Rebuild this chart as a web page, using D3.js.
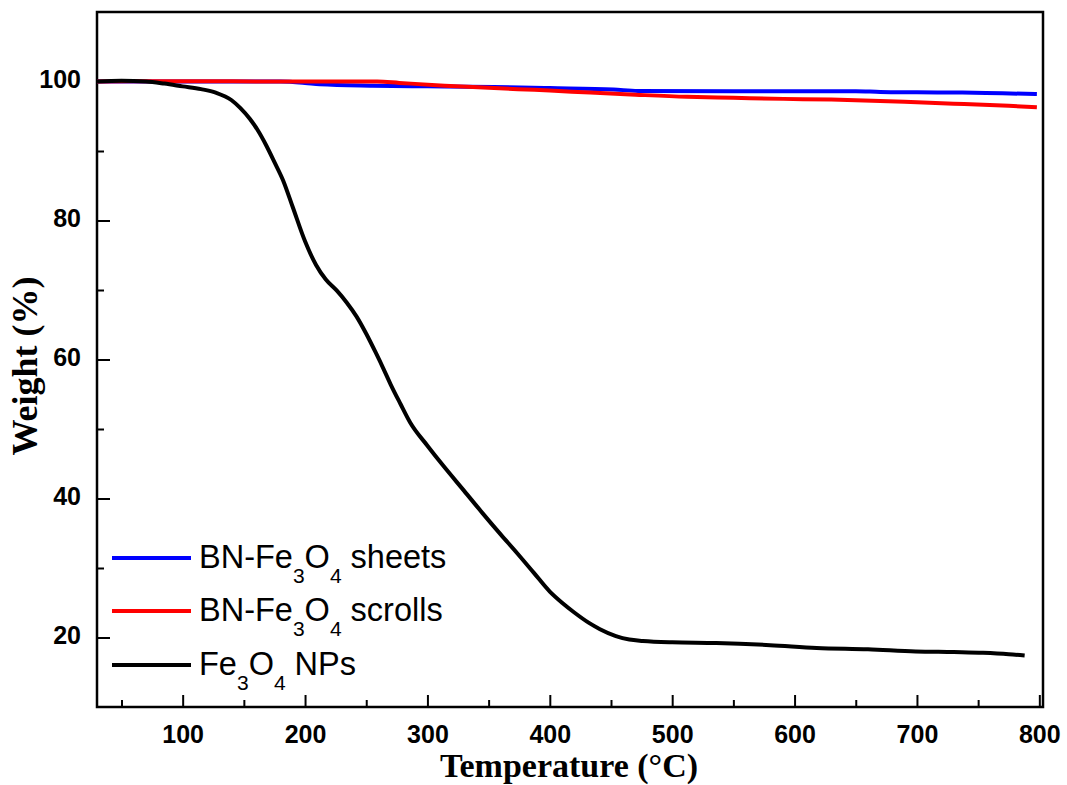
<!DOCTYPE html>
<html><head><meta charset="utf-8">
<script src="https://cdn.jsdelivr.net/npm/d3@7"></script>
<style>body{margin:0;background:#fff;} svg{display:block;}</style>
</head><body>
<script>
// ---- data ----
const xTicks = [100,200,300,400,500,600,700,800];
const xMinor = [50,150,250,350,450,550,650,750];
const yTicks = [20,40,60,80,100];
const yMinor = [30,50,70,90];
const seriesNames = ["BN-Fe3O4 sheets","BN-Fe3O4 scrolls","Fe3O4 NPs"];
const sheetsT = [30,100,180,200,212,255,300,354,400,452,472,550,650,670,700,737,770,798];
const sheetsW = [100,100,100,99.8,99.6,99.4,99.3,99.2,99.05,98.85,98.65,98.6,98.6,98.5,98.45,98.4,98.3,98.2];
const scrollsT = [30,100,182,259,277,314,350,374,400,433,470,512,550,591,630,670,700,730,749,775,798];
const scrollsW = [100,100.05,100,100,99.8,99.4,99.1,98.9,98.7,98.4,98.1,97.8,97.65,97.5,97.4,97.2,97.0,96.8,96.7,96.5,96.3];
const npsT = [30,50,70,85,100,115,127,140,147,155,162,168,175,182,190,200,209,217,226,234,242,250,258,264,270,278,286,300,313,330,345,360,373,387,400,410,420,432,441,454,465,476,500,536,580,618,660,699,730,754,775,788];
const npsW = [100,100.1,100,99.7,99.3,98.9,98.4,97.3,96.2,94.6,92.8,90.9,88.4,85.8,81.9,77,73.6,71.5,69.9,68.2,66.2,63.7,60.9,58.7,56.4,53.6,50.9,47.6,44.7,41.1,37.9,34.8,32.2,29.3,26.6,25,23.6,22.1,21.2,20.2,19.7,19.5,19.3,19.2,18.9,18.5,18.3,18,17.9,17.8,17.6,17.4];

const W = 1067, H = 785;
const L = 97, R = 1043, T = 12, B = 707;
const svg = d3.select("body").append("svg").attr("width", W).attr("height", H);
const x = d3.scaleLinear().domain([30, 803]).range([L, R]);
const y = d3.scaleLinear().domain([10, 110]).range([B, T]);

const tickFont = "'Liberation Sans', Arial, sans-serif";
const serif = "'Liberation Serif', 'Times New Roman', serif";

// frame
svg.append("rect").attr("x", L).attr("y", T).attr("width", R - L).attr("height", B - T)
  .attr("fill", "none").attr("stroke", "#000").attr("stroke-width", 2.5);

// x axis
const gx = svg.append("g").attr("transform", `translate(0,${B})`);
gx.call(d3.axisBottom(x).tickValues(xTicks).tickSize(-12).tickPadding(18).tickFormat(d3.format("d")));
gx.append("g").call(d3.axisBottom(x).tickValues(xMinor).tickSize(-7).tickFormat(""));
gx.selectAll(".domain").remove();
gx.selectAll("line").attr("stroke", "#000").attr("stroke-width", 2);
gx.selectAll("text").attr("font-family", tickFont).attr("font-weight", "bold").attr("font-size", 25).attr("fill", "#000");

// y axis
const gy = svg.append("g").attr("transform", `translate(${L},0)`);
gy.call(d3.axisLeft(y).tickValues(yTicks).tickSize(-13).tickPadding(16).tickFormat(d3.format("d")));
gy.append("g").call(d3.axisLeft(y).tickValues(yMinor).tickSize(-7).tickFormat(""));
gy.selectAll(".domain").remove();
gy.selectAll("line").attr("stroke", "#000").attr("stroke-width", 2);
gy.selectAll("text").attr("font-family", tickFont).attr("font-weight", "bold").attr("font-size", 25).attr("fill", "#000").attr("dy", "0.25em");

// axis titles
svg.append("text").attr("x", 569).attr("y", 777)
  .attr("text-anchor", "middle").attr("font-family", serif)
  .attr("font-weight", "bold").attr("font-size", 34).text("Temperature (°C)");
svg.append("text").attr("transform", `translate(37,366) rotate(-90)`)
  .attr("text-anchor", "middle").attr("font-family", serif)
  .attr("font-weight", "bold").attr("font-size", 36).text("Weight (%)");

// lines
const line = d3.line().x(d => x(d[0])).y(d => y(d[1])).curve(d3.curveMonotoneX);
const series = [
  {name: seriesNames[0], T: sheetsT, W: sheetsW, color: "#0000ff"},
  {name: seriesNames[1], T: scrollsT, W: scrollsW, color: "#ff0000"},
  {name: seriesNames[2], T: npsT, W: npsW, color: "#000000"}
];
series.forEach(s => {
  svg.append("path").datum(s.T.map((t, i) => [t, s.W[i]]))
    .attr("fill", "none").attr("stroke", s.color).attr("stroke-width", 4)
    .attr("stroke-linejoin", "round").attr("d", line);
});

// legend
const legY = [558, 611, 665];
series.forEach((s, i) => {
  svg.append("line").attr("x1", 112).attr("x2", 191).attr("y1", legY[i]).attr("y2", legY[i])
    .attr("stroke", s.color).attr("stroke-width", 4);
  const t = svg.append("text").attr("x", 199).attr("y", legY[i] + 10)
    .attr("font-family", tickFont).attr("font-size", 32.5).attr("fill", "#000");
  const parts = s.name.match(/^(.*?Fe)3O4(.*)$/);
  t.append("tspan").text(parts[1]);
  t.append("tspan").attr("font-size", 21).attr("dy", 15).text("3");
  t.append("tspan").attr("dy", -15).text("O");
  t.append("tspan").attr("font-size", 21).attr("dy", 15).text("4");
  t.append("tspan").attr("dy", -15).text(parts[2]);
});
</script>
</body></html>
